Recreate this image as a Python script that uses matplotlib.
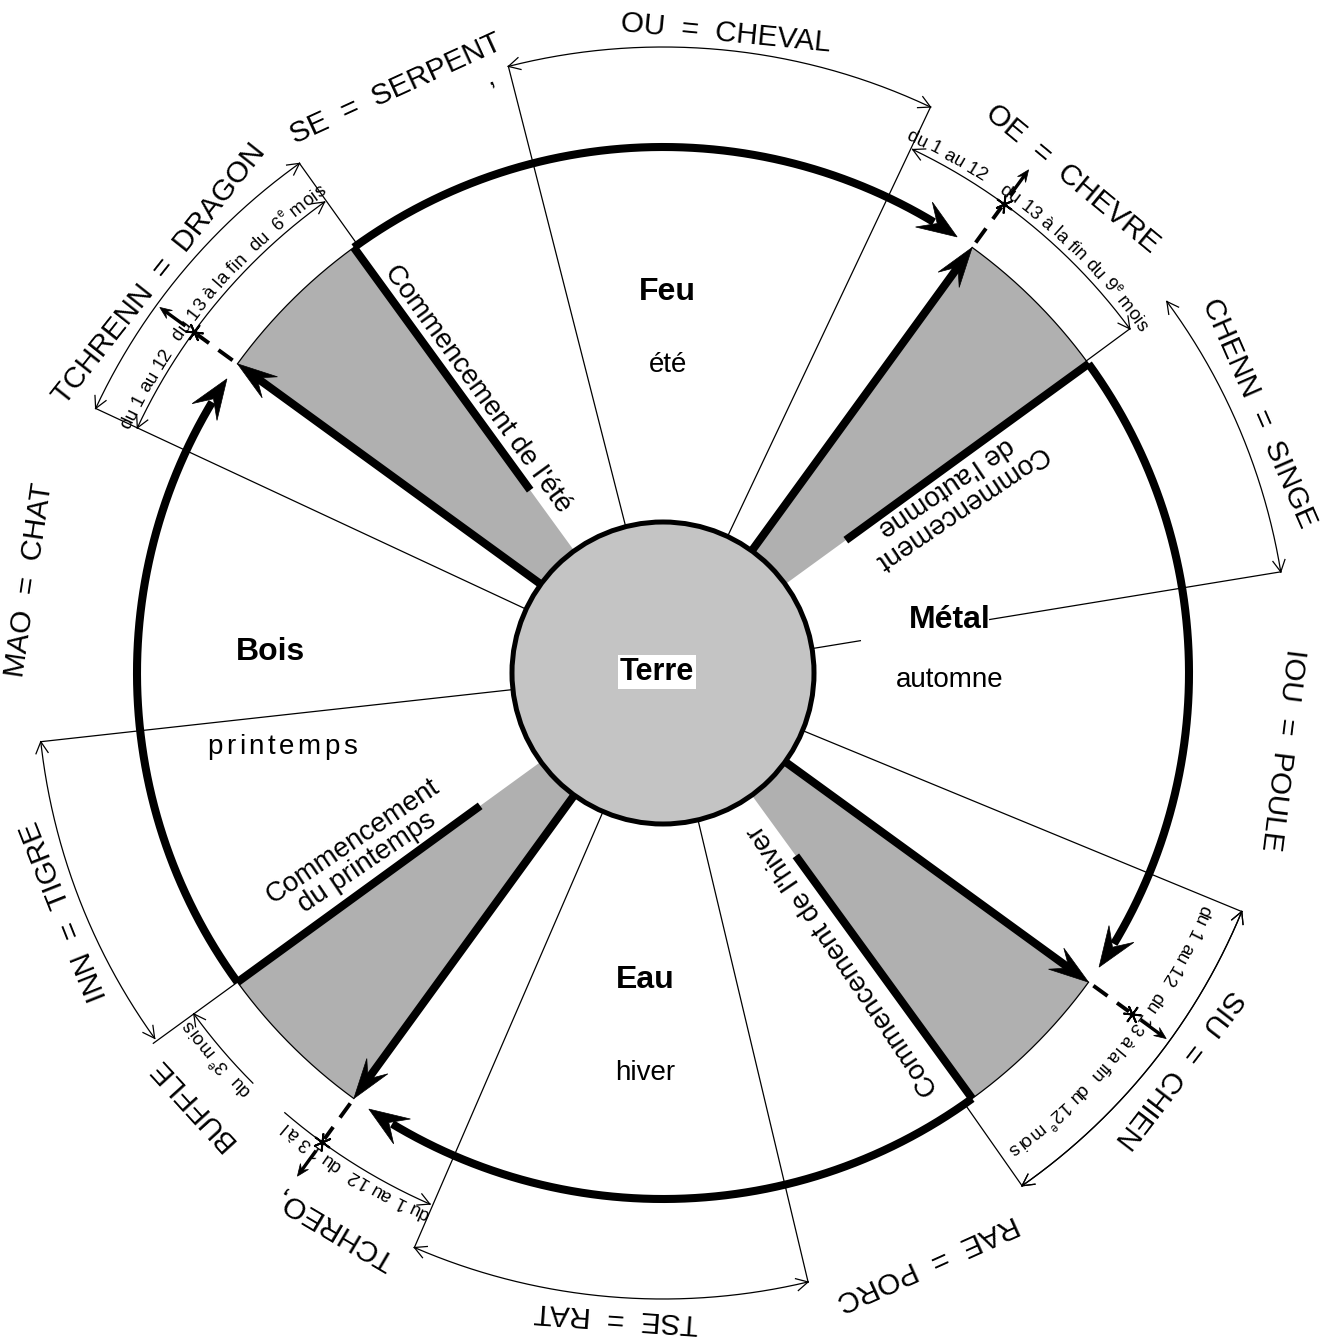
import numpy as np
import matplotlib
matplotlib.use('Agg')
import matplotlib.pyplot as plt
from matplotlib.patches import Polygon, Circle
from matplotlib.font_manager import FontProperties, findfont, get_font


# ============================================================
# Data (angles in degrees, ccw from east)
# ============================================================

# the four elements around the centre and their seasons
ELEMENTS = ['Feu', 'Métal', 'Eau', 'Bois']
SEASONS = ['été', 'automne', 'hiver', 'printemps']
CENTRE_LABEL = 'Terre'

# grey wedges (start angle of each 18 deg sector) and their captions
WEDGE_START = [126.0, 36.0, -54.0, 216.0]
WEDGE_SPAN = 18.0
WEDGE_CAPTIONS = ["Commencement de l'été",
                  "Commencement\nde l'automne",
                  "Commencement de l'hiver",
                  "Commencement\ndu printemps"]

# thin radial lines separating the double hours
HOUR_BOUNDS = [104.3, 64.7, 9.3, -22.4, -76.6, -113.4, 186.3, 155.0]

# the twelve branches (two names are cut in the original print)
BRANCH_LABELS = ['OU  =  CHEVAL', 'OE  =  CHEVRE', 'CHENN  =  SINGE',
                 'IOU  =  POULE', 'SIU  =  CHIEN', 'RAE  =  PORC',
                 'TSE  =  RAT', 'TCHREO,', 'BUFFLE', 'INN  =  TIGRE',
                 'MAO  =  CHAT', 'TCHRENN  =  DRAGON', 'SE  =  SERPENT']
BRANCH_ANGLES = [84.4, 50.4, 23.6, -7.1, -37.5, -65.8, -94.1,
                 -120.6, -137.6, -158.3, 171.6, 141.6, 114.6]

# outer dimension arcs (start, end) and inner dimension arcs
OUTER_ARCS = [(155.0, 125.5), (104.3, 64.7), (36.4, 9.3),
              (-22.4, -55.0), (-76.6, -113.4), (215.7, 186.3)]
INNER_ARCS = [(155.0, 125.7), (64.5, 36.4), (-22.4, -55.0),
              (246.3, 229.3), (225.0, 216.0)]
EXTENSIONS = [(125.5, 626), (36.4, 580), (-55.0, 626), (216.0, 630)]

# day ranges written along the inner arcs: text, centre angle
DAY_TEXTS = ['du 1 au 12', 'du 13 à la fin  du  6{e} mois',
             'du 1 au 12', 'du 13 à la fin du 9{e} mois',
             'du 1 au 12  du 13 à la fin  du 12{e} mois',
             'du 1 au 12  du 13 à l', 'du  3{e} mois']
DAY_ANGLES = [151.2, 135.3, 61.3, 45.3, -38.6, 238.2, 220.8]


# ============================================================
# Layout
# ============================================================

W, H, DPI = 1330, 1338, 100
PX = DPI / 72.0
CX, CY = 663.0, 673.0
R_IN = 151.0
R_OUT = 526.0
R_DIM_IN = 580.0
R_DIM_OUT = 626.0
R_TEXT = 586.0

FAMILY = ['Liberation Sans', 'DejaVu Sans']
FP = FontProperties(family=FAMILY)
FT = get_font(findfont(FP))

THICK = 5.8
THIN = 0.9

fig = plt.figure(figsize=(W / DPI, H / DPI), dpi=DPI)
ax = fig.add_axes([0, 0, 1, 1])
ax.set_xlim(0, W)
ax.set_ylim(H, 0)
ax.axis('off')


def pt(r, a):
    t = np.radians(a)
    return np.array([CX + r * np.cos(t), CY - r * np.sin(t)])


def out_dir(a):
    t = np.radians(a)
    return np.array([np.cos(t), -np.sin(t)])


def cw_dir(a):
    t = np.radians(a)
    return np.array([np.sin(t), np.cos(t)])


def arc_xy(r, a1, a2, n=240):
    t = np.radians(np.linspace(a1, a2, n))
    return CX + r * np.cos(t), CY - r * np.sin(t)


def radial(a, r1, r2, **kw):
    p1, p2 = pt(r1, a), pt(r2, a)
    ax.plot([p1[0], p2[0]], [p1[1], p2[1]], **kw)


def filled_head(tip, d, length, width, z=6):
    tip = np.asarray(tip, dtype=float)
    n = np.array([-d[1], d[0]])
    pts = [tip, tip - length * d + width * n, tip - 0.6 * length * d,
           tip - length * d - width * n]
    ax.add_patch(Polygon(pts, closed=True, fc='black', ec='black',
                         lw=0.5, zorder=z))


def open_head(tip, d, length=13.0, spread=28.0):
    for s in (1, -1):
        t = np.radians(s * spread)
        rot = np.array([d[0] * np.cos(t) - d[1] * np.sin(t),
                        d[0] * np.sin(t) + d[1] * np.cos(t)])
        back = tip - length * rot
        ax.plot([tip[0], back[0]], [tip[1], back[1]], color='black',
                lw=THIN, zorder=3)


def advance(ch, size):
    FT.set_size(size, 72)
    g = FT.load_char(ord(ch))
    try:
        return g.linearHoriAdvance / 65536.0
    except AttributeError:
        return g.horiAdvance / 64.0


def parse(s):
    out = []
    sup = False
    for ch in s:
        if ch == '{':
            sup = True
        elif ch == '}':
            sup = False
        else:
            out.append((ch, sup))
    return out


def curved_text(s, theta_c, r, size):
    chars = parse(s)
    sizes = [size * 0.62 if sup else size for ch, sup in chars]
    widths = [advance(ch, sz) * PX for (ch, sup), sz in zip(chars, sizes)]
    pos = -sum(widths) / 2.0
    for (ch, sup), sz, w in zip(chars, sizes, widths):
        a = theta_c - np.degrees((pos + w / 2.0) / r)
        rr = r + (size * 0.45 * PX if sup else 0.0)
        x, y = pt(rr, a)
        if ch != ' ':
            ax.text(x, y, ch, fontsize=sz, family=FAMILY, rotation=a - 90,
                    rotation_mode='anchor', ha='center', va='baseline',
                    zorder=7)
        pos += w


def spaced_text(x, y, s, size, gap):
    widths = [advance(ch, size) * PX for ch in s]
    total = sum(widths) + gap * (len(s) - 1)
    pos = x - total / 2.0
    for ch, w in zip(s, widths):
        ax.text(pos + w / 2.0, y, ch, fontsize=size, family=FAMILY,
                ha='center', va='center', zorder=7)
        pos += w + gap


# ---------------- grey wedges ----------------
for a0 in WEDGE_START:
    xo, yo = arc_xy(R_OUT, a0, a0 + WEDGE_SPAN)
    xi, yi = arc_xy(R_IN, a0 + WEDGE_SPAN, a0)
    poly = np.column_stack([np.concatenate([xo, xi]), np.concatenate([yo, yi])])
    ax.add_patch(Polygon(poly, closed=True, fc='#b0b0b0', ec='none', zorder=1))
    ax.plot(xo, yo, color='black', lw=THIN, zorder=2)

# ---------------- thin radial lines ----------------
for a in HOUR_BOUNDS:
    if a == 9.3:
        radial(a, R_IN, 200, color='black', lw=THIN, zorder=2)
        radial(a, 331, R_DIM_OUT, color='black', lw=THIN, zorder=2)
    else:
        radial(a, R_IN, R_DIM_OUT, color='black', lw=THIN, zorder=2)
for a, r2 in EXTENSIONS:
    radial(a, R_OUT, r2, color='black', lw=THIN, zorder=2)

# ---------------- dimension arcs ----------------
for a1, a2 in OUTER_ARCS + INNER_ARCS:
    r = R_DIM_OUT if (a1, a2) in OUTER_ARCS else R_DIM_IN
    x, y = arc_xy(r, a1, a2)
    ax.plot(x, y, color='black', lw=THIN, zorder=3)
for a1, a2 in OUTER_ARCS + INNER_ARCS[:3] + [(INNER_ARCS[3][0], INNER_ARCS[4][1])]:
    r = R_DIM_OUT if (a1, a2) in OUTER_ARCS else R_DIM_IN
    open_head(pt(r, a1), -cw_dir(a1))
    open_head(pt(r, a2), cw_dir(a2))

# ---------------- inner circle ----------------
ax.add_patch(Circle((CX, CY), R_IN, fc='#c4c4c4', ec='black', lw=3.6, zorder=4))

# ---------------- thick outer arcs with arrows ----------------
for a0 in WEDGE_START:
    start = a0
    tip = a0 - 90.0 + WEDGE_SPAN + 2.0
    x, y = arc_xy(R_OUT, start, tip + 3.0)
    ax.plot(x, y, color='black', lw=THICK, solid_capstyle='butt', zorder=5)
    filled_head(pt(R_OUT, tip), cw_dir(tip), 40, 15)

# ---------------- thick radial arrows, captions lines, dashes ----------------
for a0 in WEDGE_START:
    a_arrow = a0 + WEDGE_SPAN
    radial(a_arrow, R_IN, R_OUT - 20, color='black', lw=THICK,
           solid_capstyle='butt', zorder=5)
    filled_head(pt(R_OUT, a_arrow), out_dir(a_arrow), 40, 13)
    radial(a0, 226, R_OUT, color='black', lw=THICK, solid_capstyle='butt',
           zorder=5)
    p1, p2 = pt(R_OUT + 6, a_arrow), pt(R_DIM_IN - 4, a_arrow)
    ax.plot([p1[0], p2[0]], [p1[1], p2[1]], color='black', lw=2.8,
            dashes=(4.5, 3.0), zorder=5)
    star = pt(R_DIM_IN, a_arrow)
    ax.plot(star[0], star[1], marker=(6, 2, a_arrow), ms=13, mew=1.4,
            color='black', zorder=6)
    radial(a_arrow, R_DIM_IN + 12, R_DIM_OUT - 10, color='black', lw=2.4,
           zorder=5)
    filled_head(pt(R_DIM_OUT - 4, a_arrow), out_dir(a_arrow), 12, 5)

# ---------------- element and season labels ----------------
ELEMENT_POS = [(667, 292), (950, 620), (645, 980), (270, 652)]
SEASON_POS = [(668, 365), (950, 680), (645, 1073), (282, 747)]
for name, (x, y) in zip(ELEMENTS, ELEMENT_POS):
    ax.text(x, y, name, fontsize=23, fontweight='bold', family=FAMILY,
            ha='center', va='center', zorder=7)
for name, (x, y) in zip(SEASONS[:3], SEASON_POS[:3]):
    ax.text(x, y, name, fontsize=20, family=FAMILY, ha='center',
            va='center', zorder=7)
spaced_text(SEASON_POS[3][0], SEASON_POS[3][1], SEASONS[3], 20, 3.5)
ax.text(657, 672, CENTRE_LABEL, fontsize=22, fontweight='bold',
        family=FAMILY, ha='center', va='center', zorder=7,
        bbox=dict(fc='white', ec='none', pad=1.5))

# ---------------- wedge captions ----------------
CAPTION_POS = [(478, 389), (953, 497), (843, 960), (360, 852)]
CAPTION_ROT = [-54, 214, 124, 34]
for text, (x, y), rot in zip(WEDGE_CAPTIONS, CAPTION_POS, CAPTION_ROT):
    ax.text(x, y, text, fontsize=20, family=FAMILY, rotation=rot,
            rotation_mode='anchor', ha='center', va='center',
            linespacing=0.95, multialignment='center', zorder=7)

# ---------------- branch names ----------------
BRANCH_RADII = [643, 642, 650, 624, 650, 646, 646, 645, 638, 644, 640, 643, 642]
for text, a, r in zip(BRANCH_LABELS, BRANCH_ANGLES, BRANCH_RADII):
    x, y = pt(r, a)
    ax.text(x, y, text, fontsize=21.3, family=FAMILY, rotation=a - 90,
            rotation_mode='anchor', ha='center', va='center', zorder=7)
ax.text(490, 78, ',', fontsize=20, family=FAMILY, rotation=25,
        ha='center', va='center', zorder=7)

# ---------------- day ranges ----------------
for text, a in zip(DAY_TEXTS, DAY_ANGLES):
    curved_text(text, a, R_TEXT, 13.5)

fig.savefig('out.png', dpi=DPI, facecolor='white')
